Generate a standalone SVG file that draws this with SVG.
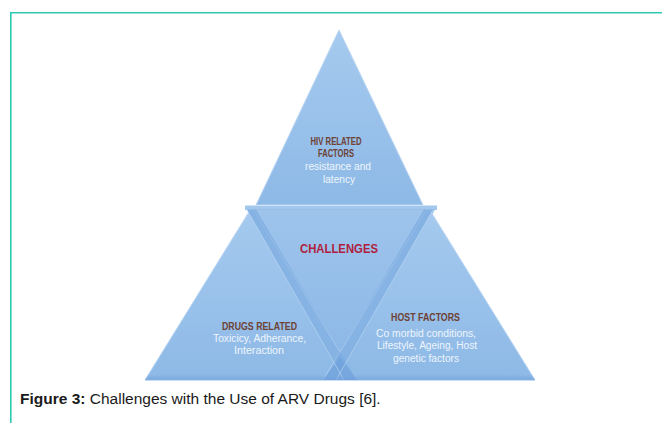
<svg xmlns="http://www.w3.org/2000/svg" width="662" height="423" viewBox="0 0 662 423">
  <defs>
    <linearGradient id="triFill" x1="0" y1="0" x2="0" y2="1">
      <stop offset="0" stop-color="#a6caef"/>
      <stop offset="1" stop-color="#8db9e6"/>
    </linearGradient>
    <linearGradient id="centerFill" x1="0" y1="0" x2="0" y2="1">
      <stop offset="0" stop-color="#9ec4ec"/>
      <stop offset="1" stop-color="#8ab6e5"/>
    </linearGradient>
    <linearGradient id="baseShade" x1="0" y1="0" x2="0" y2="1">
      <stop offset="0" stop-color="#7aa9df" stop-opacity="0"/>
      <stop offset="1" stop-color="#6f9fd8" stop-opacity="0.7"/>
    </linearGradient>
    <linearGradient id="bandFill" x1="0" y1="0" x2="1" y2="0">
      <stop offset="0" stop-color="#5a93d4" stop-opacity="0.45"/>
      <stop offset="1" stop-color="#6a9fda" stop-opacity="0.25"/>
    </linearGradient>
    <linearGradient id="bandFillR" x1="1" y1="0" x2="0" y2="0">
      <stop offset="0" stop-color="#5a93d4" stop-opacity="0.45"/>
      <stop offset="1" stop-color="#6a9fda" stop-opacity="0.25"/>
    </linearGradient>
  </defs>
  <style>
    .frame { fill: none; stroke: #2dc9b3; stroke-width: 1.6; }
    .tri { fill: url(#triFill); stroke: #b9d6f3; stroke-width: 1; stroke-linejoin: miter; }
    .bandEdge { stroke: #bcd7f3; stroke-width: 0.8; fill: none; opacity: 0.8; }
    .head { font-family: "Liberation Sans", Arial, sans-serif; font-weight: bold; font-size: 10.5px; fill: #6e4235; text-anchor: middle; }
    .sub { font-family: "Liberation Sans", Arial, sans-serif; font-size: 10px; fill: #eef5fc; text-anchor: middle; }
    .core { font-family: "Liberation Sans", Arial, sans-serif; font-weight: bold; font-size: 13px; fill: #b01e3e; text-anchor: middle; }
    .caption { font-family: "Liberation Sans", Arial, sans-serif; font-size: 15.5px; fill: #1a1a1a; }
  </style>

  <!-- page frame -->
  <path class="frame" d="M10.8,423 V12.8 H662"/>

  <!-- central inverted triangle -->
  <g id="challenges">
    <polygon points="245,206 437,206 340,380" fill="url(#centerFill)"/>
  </g>

  <!-- lower left triangle -->
  <g id="drugs-related">
    <polygon class="tri" points="252,207 145,380 357,380"/>
  </g>

  <!-- lower right triangle -->
  <g id="host-factors">
    <polygon class="tri" points="428,207 323,380 535,380"/>
  </g>

  <!-- top triangle -->
  <g id="hiv-related">
    <polygon class="tri" points="339,30 256,205 423,205"/>
  </g>

  <!-- overlap bands, ledge and base shading -->
  <g id="connectors">
    <polygon points="323,380 357,380 340,357" fill="#6d9fda" opacity="0.55"/>
    <polygon points="246,208 255,208 357,380 344,380" fill="url(#bandFill)"/>
    <polygon points="434,208 425,208 323,380 336,380" fill="url(#bandFillR)"/>
    <line class="bandEdge" x1="246" y1="208" x2="344" y2="380"/>
    <line class="bandEdge" x1="434" y1="208" x2="336" y2="380"/>
    <rect x="245" y="205" width="192" height="4.5" fill="#a3c8ee"/>
    <line x1="245" y1="205.5" x2="437" y2="205.5" stroke="#cfe3f7" stroke-width="1.2"/>
    <line x1="245" y1="209.5" x2="437" y2="209.5" stroke="#8fb9e5" stroke-width="0.6"/>
    <polygon points="149,374 531,374 535,380 145,380" fill="url(#baseShade)"/>
    <line x1="145" y1="380.5" x2="535" y2="380.5" stroke="#c8def5" stroke-width="1"/>
  </g>

  <!-- labels -->
  <text class="head" x="336" y="145" textLength="51" lengthAdjust="spacingAndGlyphs">HIV RELATED</text>
  <text class="head" x="336" y="157" textLength="36" lengthAdjust="spacingAndGlyphs">FACTORS</text>
  <text class="sub" x="338" y="170" textLength="66" lengthAdjust="spacingAndGlyphs">resistance and</text>
  <text class="sub" x="339" y="183" textLength="32" lengthAdjust="spacingAndGlyphs">latency</text>

  <text class="core" x="339" y="253" textLength="78" lengthAdjust="spacingAndGlyphs">CHALLENGES</text>

  <text class="head" x="259.5" y="330" textLength="75" lengthAdjust="spacingAndGlyphs">DRUGS RELATED</text>
  <text class="sub" x="259.5" y="342" textLength="93" lengthAdjust="spacingAndGlyphs">Toxicicy, Adherance,</text>
  <text class="sub" x="259" y="354" textLength="50" lengthAdjust="spacingAndGlyphs">Interaction</text>

  <text class="head" x="425.5" y="321" textLength="69" lengthAdjust="spacingAndGlyphs">HOST FACTORS</text>
  <text class="sub" x="426" y="337" textLength="100" lengthAdjust="spacingAndGlyphs">Co morbid conditions,</text>
  <text class="sub" x="427" y="349" textLength="100" lengthAdjust="spacingAndGlyphs">Lifestyle, Ageing, Host</text>
  <text class="sub" x="426" y="362" textLength="66" lengthAdjust="spacingAndGlyphs">genetic factors</text>

  <text class="caption" x="20" y="404"><tspan font-weight="bold">Figure 3:</tspan> Challenges with the Use of ARV Drugs [6].</text>
</svg>
